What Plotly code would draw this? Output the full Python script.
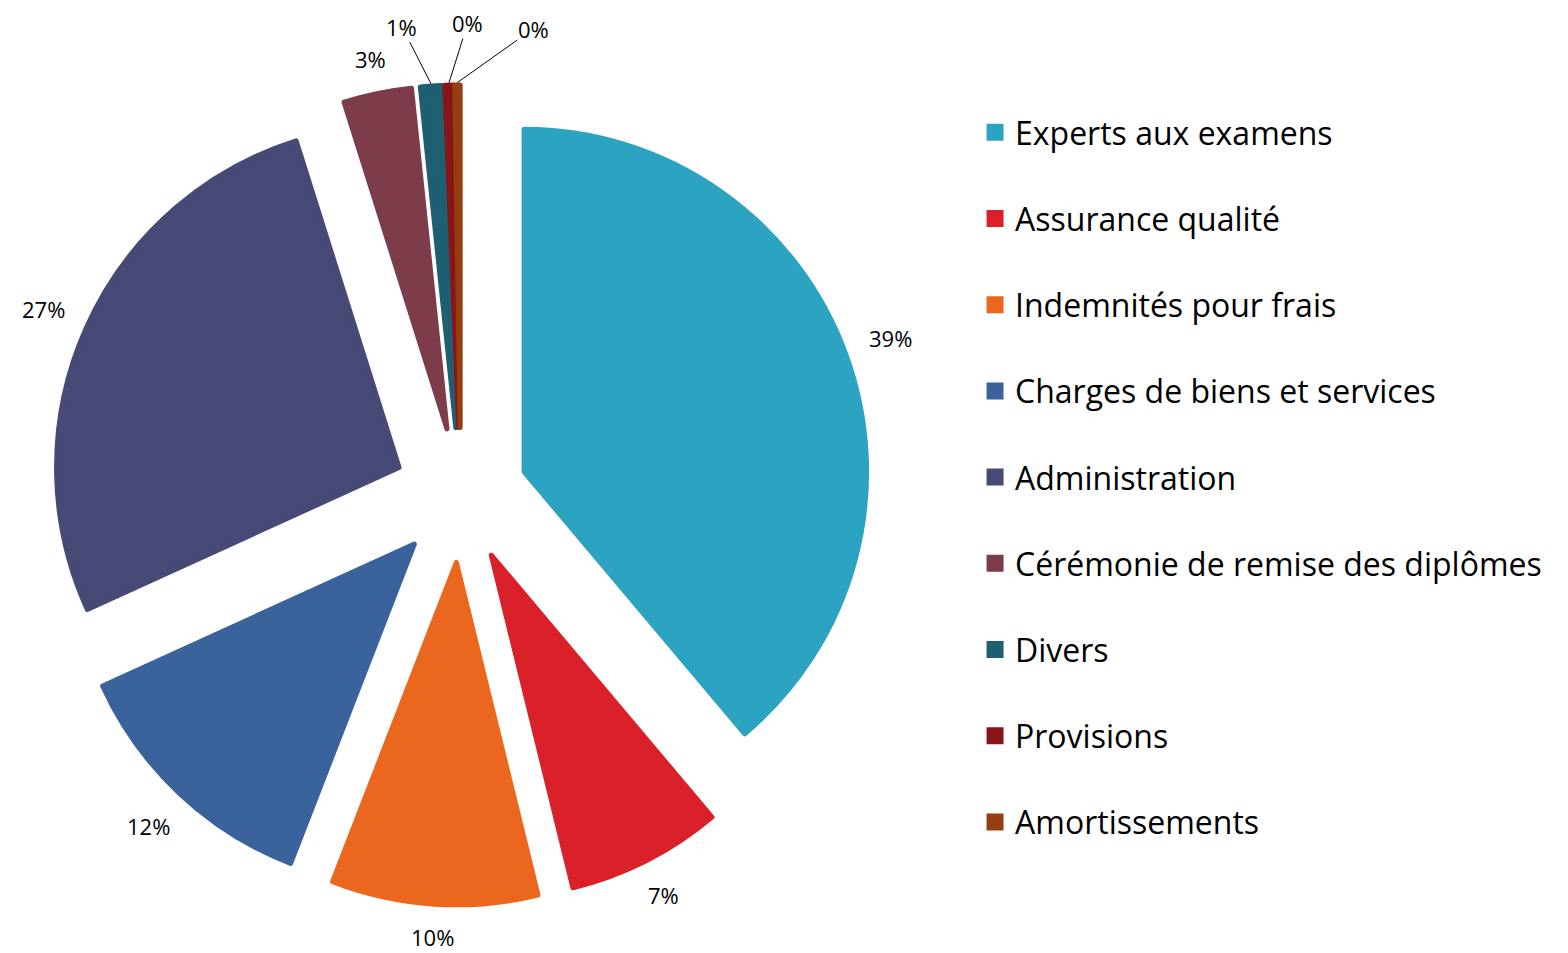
import math
import plotly.graph_objects as go

categories = ["Experts aux examens", "Assurance qualité", "Indemnités pour frais",
              "Charges de biens et services", "Administration",
              "Cérémonie de remise des diplômes", "Divers", "Provisions", "Amortissements"]
shares = [38.8, 7.3, 9.7, 12.3, 26.9, 3.2, 1.0, 0.4, 0.25]
colors = ["#2CA3C0", "#DA2029", "#EB671E", "#3A639C", "#474A76",
          "#7D3C4A", "#1F5F72", "#891519", "#953F10"]

W, H = 1560, 945
pie_x = [0.02737, 0.55301]
pie_y = [0.05079, 0.91852]
pull = 0.197
line_w = 5
label_size = 22


def legend_label(name):
    # blank second line gives the legend rows the wide spacing of the original
    return f"{name}<br> "


def pct_labels():
    # percent labels placed around the exploded pie, same geometry plotly uses
    box = min(W * (pie_x[1] - pie_x[0]), H * (pie_y[1] - pie_y[0]))
    r = box / (2 + 2 * pull)
    cx = (pie_x[0] + pie_x[1]) / 2
    cy = (pie_y[0] + pie_y[1]) / 2
    outer = r * (1 + pull)
    edge = outer + line_w / 2
    total = sum(shares)
    font = dict(family="Open Sans", size=label_size, color="#000000")
    anns = []
    cum = 0
    k = 0
    first_small = None
    for share in shares:
        mid = 360 * (cum + share / 2) / total
        cum += share
        text = f"{round(100 * share / total)}%"
        a = math.radians(mid)
        if share >= 2:
            # keep a fixed gap between slice edge and the label box
            half_w = (0.572 * (len(text) - 1) + 0.843) * label_size / 2
            half_h = 8
            dist = outer + 24 + abs(math.sin(a)) * half_w + abs(math.cos(a)) * half_h
            anns.append(dict(x=cx + dist * math.sin(a) / W, y=cy + dist * math.cos(a) / H,
                             xref="paper", yref="paper", text=text, showarrow=False,
                             xanchor="center", yanchor="middle", borderpad=0, font=font))
        else:
            # tiny slices: spread the labels and add leader lines
            if first_small is None:
                first_small = mid
            lab = math.radians(first_small - 3 + 8 * k)
            k += 1
            dist = outer + 62
            ex, ey = edge * math.sin(a), edge * math.cos(a)
            lx, ly = dist * math.sin(lab), dist * math.cos(lab)
            anns.append(dict(x=cx + ex / W, y=cy + ey / H, xref="paper", yref="paper",
                             text=text, showarrow=True, arrowhead=0, arrowwidth=1,
                             arrowcolor="#000000", standoff=0, borderpad=0,
                             ax=lx - ex, ay=-(ly - ey), font=font))
    return anns


fig = go.Figure(go.Pie(
    labels=[legend_label(c) for c in categories],
    values=shares,
    sort=False,
    direction="clockwise",
    rotation=0,
    pull=pull,
    marker=dict(colors=colors, line=dict(color=colors, width=line_w)),
    textinfo="none",
    domain=dict(x=pie_x, y=pie_y),
    hoverinfo="label+percent",
))

fig.update_layout(
    width=W,
    height=H,
    margin=dict(l=0, r=0, b=0, t=0, pad=0, autoexpand=False),
    paper_bgcolor="#ffffff",
    plot_bgcolor="#ffffff",
    showlegend=True,
    legend=dict(
        x=0.6199, xanchor="left",
        y=0.4815, yanchor="middle",
        valign="top",
        font=dict(family="Open Sans", size=32, color="#000000"),
        bgcolor="rgba(0,0,0,0)",
    ),
    annotations=pct_labels(),
)

fig.write_html("out.html", config={"displayModeBar": False})
